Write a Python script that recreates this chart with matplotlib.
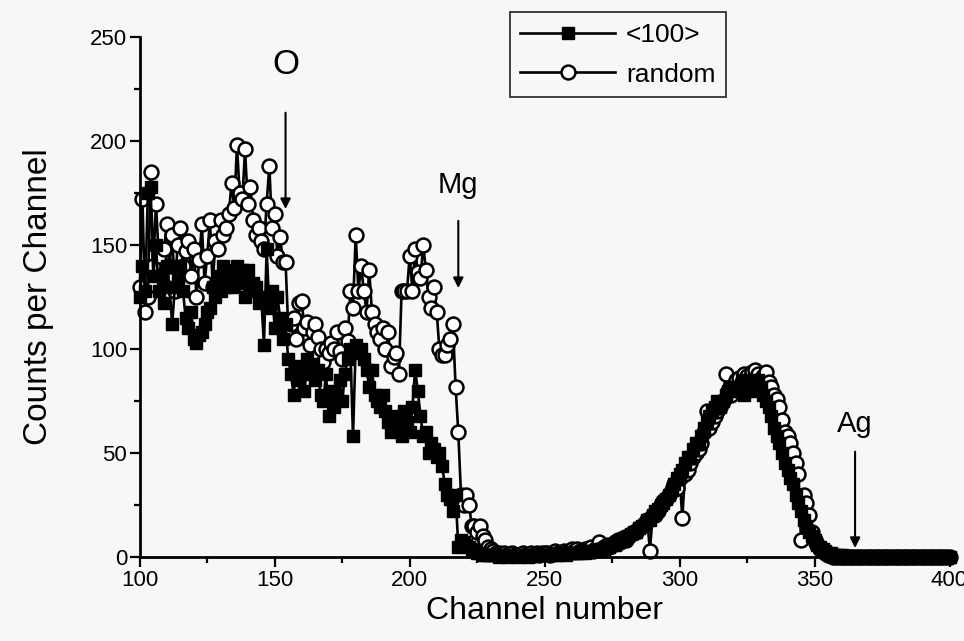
import matplotlib
matplotlib.use("Agg")
import matplotlib.pyplot as plt
from matplotlib.ticker import MultipleLocator
import numpy as np

plt.rcParams['font.family'] = ['Liberation Sans', 'DejaVu Sans']

# channel numbers, one per channel from 100 to 400
channels = np.arange(100, 401)

# <100> aligned spectrum (filled squares)
aligned = [
    125, 140, 128, 175, 178, 135, 150, 128, 135, 122,
    140, 130, 112, 130, 133, 140, 128, 115, 110, 118,
    105, 103, 107, 108, 112, 118, 120, 130, 125, 135,
    128, 140, 130, 138, 135, 130, 140, 132, 138, 125,
    138, 128, 132, 130, 122, 125, 102, 148, 120, 128,
    110, 125, 115, 105, 112, 95, 88, 78, 92, 85,
    90, 80, 95, 88, 93, 85, 90, 78, 75, 88,
    68, 80, 72, 78, 85, 75, 88, 95, 100, 58,
    102, 98, 100, 95, 90, 82, 90, 78, 75, 72,
    78, 70, 65, 60, 65, 68, 62, 58, 70, 65,
    60, 72, 90, 80, 68, 58, 60, 50, 55, 52,
    48, 50, 44, 35, 30, 28, 22, 30, 5, 8,
    7, 6, 5, 4, 3, 2, 2, 1, 1, 1,
    1, 1, 1, 0, 1, 1, 0, 1, 1, 1,
    0, 1, 1, 1, 0, 1, 1, 1, 1, 1,
    1, 1, 1, 2, 1, 1, 2, 2, 1, 2,
    2, 2, 2, 2, 3, 2, 3, 3, 3, 4,
    3, 4, 4, 5, 5, 6, 6, 7, 8, 8,
    9, 10, 11, 12, 12, 14, 15, 16, 18, 18,
    20, 22, 23, 25, 26, 28, 30, 32, 35, 38,
    40, 42, 45, 48, 48, 52, 55, 55, 58, 62,
    65, 68, 70, 72, 75, 72, 75, 78, 80, 82,
    80, 80, 82, 85, 78, 80, 85, 82, 80, 85,
    82, 78, 75, 72, 68, 62, 58, 55, 50, 45,
    42, 38, 35, 30, 26, 22, 18, 15, 12, 10,
    8, 6, 5, 4, 3, 2, 2, 1, 1, 1,
    1, 0, 0, 0, 0, 0, 0, 0, 0, 0,
    0, 0, 0, 0, 0, 0, 0, 0, 0, 0,
    0, 0, 0, 0, 0, 0, 0, 0, 0, 0,
    0, 0, 0, 0, 0, 0, 0, 0, 0, 0,
    0,
]

# random spectrum (open circles)
random_ = [
    130, 172, 118, 125, 185, 140, 170, 145, 135, 148,
    160, 140, 155, 128, 150, 158, 140, 147, 152, 135,
    148, 125, 143, 160, 132, 145, 162, 130, 152, 148,
    162, 155, 158, 165, 180, 168, 198, 175, 172, 196,
    170, 178, 162, 155, 158, 152, 148, 170, 188, 158,
    165, 145, 154, 142, 142, 110, 112, 115, 105, 122,
    123, 110, 113, 102, 108, 112, 106, 100, 94, 100,
    98, 103, 100, 108, 99, 95, 110, 104, 128, 120,
    155, 128, 140, 128, 118, 138, 118, 112, 108, 105,
    110, 100, 108, 92, 96, 98, 88, 128, 128, 128,
    145, 128, 148, 137, 134, 150, 138, 125, 120, 130,
    118, 100, 97, 97, 102, 105, 112, 82, 60, 30,
    25, 30, 25, 15, 15, 12, 15, 10, 8, 5,
    4, 3, 2, 2, 1, 2, 1, 1, 2, 1,
    1, 1, 2, 1, 1, 2, 1, 2, 1, 2,
    2, 2, 1, 2, 3, 2, 2, 3, 2, 3,
    4, 3, 4, 3, 3, 4, 4, 5, 3, 4,
    7, 4, 5, 6, 5, 6, 7, 8, 7, 9,
    8, 10, 11, 12, 12, 14, 15, 16, 18, 3,
    20, 20, 22, 25, 27, 28, 30, 32, 35, 33,
    38, 19, 40, 42, 45, 48, 50, 52, 55, 60,
    70, 62, 65, 68, 70, 72, 75, 88, 80, 78,
    82, 85, 86, 84, 88, 87, 86, 89, 90, 88,
    85, 87, 89, 84, 82, 78, 76, 72, 66, 60,
    58, 55, 50, 45, 40, 8, 30, 26, 20, 12,
    8, 6, 4, 3, 2, 1, 1, 0, 0, 0,
    0, 0, 0, 0, 0, 0, 0, 0, 0, 0,
    0, 0, 0, 0, 0, 0, 0, 0, 0, 0,
    0, 0, 0, 0, 0, 0, 0, 0, 0, 0,
    0, 0, 0, 0, 0, 0, 0, 0, 0, 0,
    0,
]

# element edge markers: (label, channel, text height, arrow top, arrow tip, size)
edges = [
    ("O", 154, 237, 215, 166, 25),
    ("Mg", 218, 179, 163, 128, 21),
    ("Ag", 365, 64, 52, 3, 21),
]

fig = plt.figure(figsize=(9.64, 6.41), dpi=100)
fig.patch.set_facecolor("#f7f7f7")
ax = fig.add_axes([0.145, 0.131, 0.840, 0.811])
ax.set_facecolor("#f7f7f7")

ax.plot(channels, aligned, color="black", lw=1.9, marker="s", ms=8.5,
        mfc="black", mec="black", label="<100>", clip_on=False, zorder=3)
ax.plot(channels, random_, color="black", lw=1.9, marker="o", ms=10,
        mfc="white", mec="black", mew=1.8, label="random", clip_on=False,
        zorder=2)

for name, ch, ty, top, tip, fs in edges:
    ax.text(ch, ty, name, ha="center", va="center", fontsize=fs)
    ax.annotate("", xy=(ch, tip), xytext=(ch, top),
                arrowprops=dict(arrowstyle="-|>", color="black", lw=1.5,
                                mutation_scale=15))

ax.set_xlim(100, 400)
ax.set_ylim(0, 250)
ax.xaxis.set_major_locator(MultipleLocator(50))
ax.xaxis.set_minor_locator(MultipleLocator(25))
ax.yaxis.set_major_locator(MultipleLocator(50))
ax.yaxis.set_minor_locator(MultipleLocator(25))
ax.tick_params(which="both", direction="out", width=1.6, labelsize=16)
ax.tick_params(which="major", length=7)
ax.tick_params(which="minor", length=4)
ax.tick_params(axis="x", pad=2)
ax.tick_params(axis="y", pad=2)
ax.spines["top"].set_visible(False)
ax.spines["right"].set_visible(False)
ax.spines["left"].set_linewidth(2)
ax.spines["bottom"].set_linewidth(2)

ax.set_xlabel("Channel number", fontsize=23, labelpad=4)
ax.set_ylabel("Counts per Channel", fontsize=24, labelpad=26)

leg = ax.legend(loc="upper left", bbox_to_anchor=(0.457, 1.048), fontsize=19,
                frameon=True, fancybox=False, edgecolor="black",
                handlelength=3.6, borderpad=0.4, labelspacing=0.6,
                handletextpad=0.4, borderaxespad=0)
leg.get_frame().set_linewidth(1.3)
leg.get_frame().set_facecolor("#f7f7f7")

fig.savefig("out.png", dpi=100, facecolor=fig.get_facecolor())
